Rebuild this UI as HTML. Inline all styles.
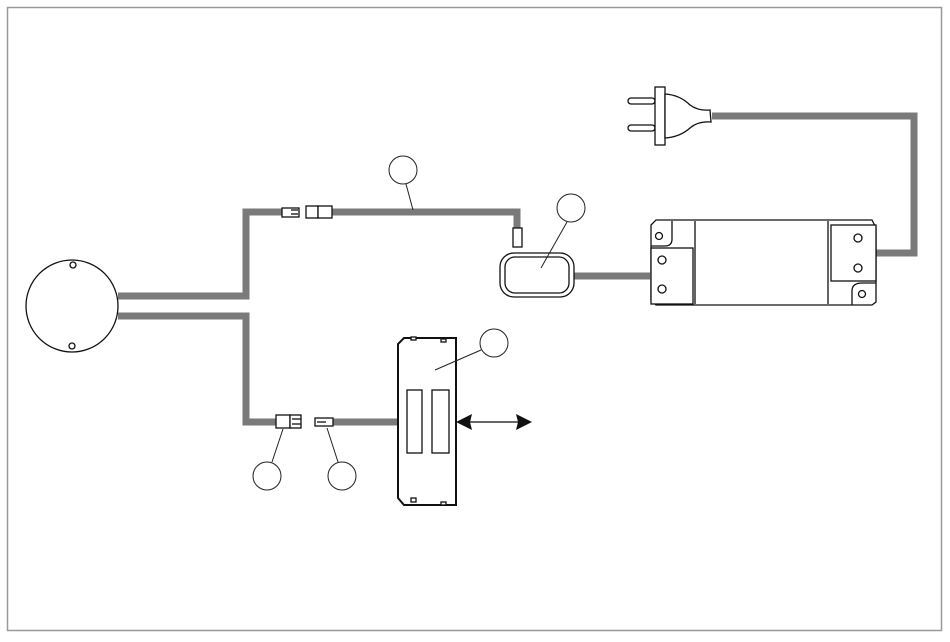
<!DOCTYPE html>
<html><head><style>html,body{margin:0;padding:0;background:#fff}</style></head><body>
<svg width="950" height="637" viewBox="0 0 950 637" xmlns="http://www.w3.org/2000/svg">
<rect x="7.5" y="7.5" width="934" height="623" fill="#fff" stroke="#999" stroke-width="1.5"/>
<g fill="none" stroke="#7a7a7a" stroke-width="7">
<polyline points="118,296 246,296 246,212 282,212"/>
<polyline points="332,212 517,212 517,228"/>
<line x1="572" y1="276" x2="650" y2="276"/>
<polyline points="876,253 914,253 914,116 712,116"/>
<polyline points="118,316 246,316 246,422 276,422"/>
<line x1="333" y1="422" x2="399" y2="422"/>
</g>
<g fill="#fff" stroke="#111" stroke-width="1.3">
<circle cx="72" cy="306" r="46"/>
<circle cx="73" cy="265" r="3"/><circle cx="72" cy="346" r="3"/>
<!-- upper connectors -->
<rect x="282" y="208" width="17" height="9"/>
<line x1="291" y1="210" x2="298" y2="210"/><line x1="291" y1="214" x2="298" y2="214"/>
<rect x="306" y="206" width="12" height="12"/><rect x="318" y="206" width="14" height="12"/>
<rect x="513" y="228" width="9" height="19"/>
<!-- switch -->
<rect x="500" y="253" width="74" height="44" rx="14"/>
<rect x="505" y="257" width="64" height="36" rx="10"/>
<!-- driver -->
<path d="M656,220 L872,220 L876,228 L876,302 L872,305 L656,305 L651,300 L651,225 Z"/>
<line x1="695" y1="221" x2="695" y2="304"/><line x1="828" y1="221" x2="828" y2="304"/>
<rect x="651" y="248" width="42" height="56"/>
<rect x="831" y="225" width="45" height="56"/>
<path d="M651,246 L665,246 Q672,246 672,239 L672,221"/>
<path d="M876,283 L862,283 Q852,283 852,291 L852,305"/>
<circle cx="659" cy="236" r="3.5"/><circle cx="862" cy="294" r="3.5"/>
<circle cx="662" cy="260" r="4"/><circle cx="662" cy="289" r="4"/>
<circle cx="858" cy="238" r="4"/><circle cx="858" cy="268" r="4"/>
<!-- plug -->
<rect x="628" y="98" width="27" height="6" rx="3"/><rect x="628" y="125" width="27" height="6" rx="3"/>
<rect x="655" y="87" width="10" height="58"/>
<path d="M665,94 Q680,95 690,105 Q698,111 710,110 L711,122 Q698,121 690,128 Q680,137 665,138 Z"/>
<!-- lower connectors -->
<rect x="276" y="415" width="14" height="13"/><rect x="290" y="415" width="11" height="13"/>
<line x1="292" y1="419" x2="301" y2="419"/><line x1="292" y1="424" x2="301" y2="424"/>
<rect x="315" y="418" width="18" height="8"/><line x1="317" y1="422" x2="326" y2="422"/>
<!-- panel -->
<path d="M404,338 L456,338 L456,505 L404,505 L398,498 L398,344 Z" stroke-width="2"/>
<rect x="407" y="390" width="15" height="63"/><rect x="432" y="390" width="17" height="63"/>
<rect x="411" y="337" width="5" height="3"/><rect x="441" y="339" width="5" height="3"/>
<rect x="411" y="498" width="5" height="4"/><rect x="441" y="502" width="5" height="3"/>
</g>
<!-- arrow -->
<line x1="466" y1="422" x2="520" y2="422" stroke="#333" stroke-width="1.5"/>
<polygon points="456,422 472,414 470,422 472,430" fill="#111"/>
<polygon points="532,422 516,414 518,422 516,430" fill="#111"/>
<!-- labels -->
<g fill="#fff" stroke="#222" stroke-width="1">
<line x1="406" y1="184" x2="413" y2="210"/>
<line x1="567" y1="222" x2="541" y2="268"/>
<line x1="481" y1="350" x2="435" y2="370"/>
<line x1="283" y1="429" x2="272" y2="462"/>
<line x1="327" y1="428" x2="338" y2="462"/>
<circle cx="403" cy="170" r="14"/><circle cx="571" cy="208" r="14"/>
<circle cx="494" cy="343" r="14"/><circle cx="267" cy="476" r="14"/><circle cx="342" cy="476" r="14"/>
</g>
</svg>
</body></html>
